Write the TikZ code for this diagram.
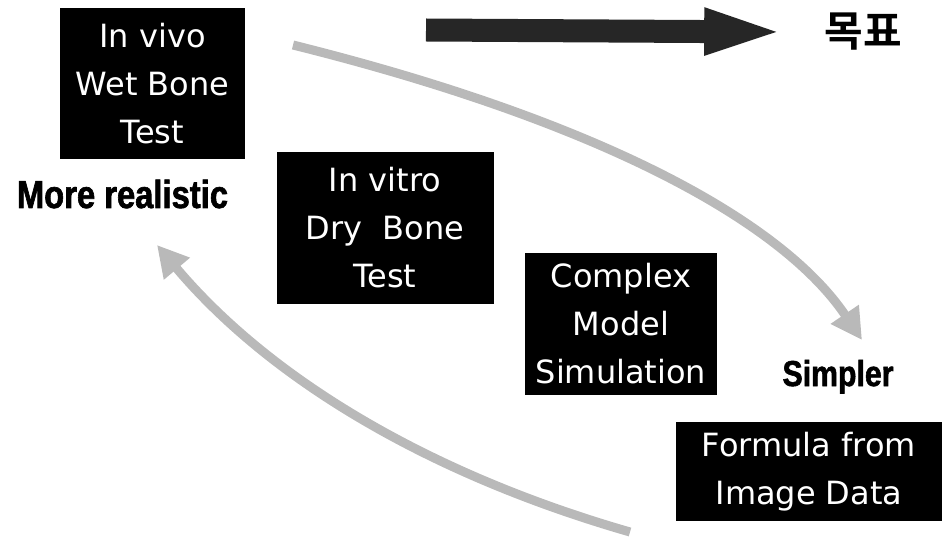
\documentclass[tikz,border=0pt]{standalone}
\usepackage{fontspec}
\usetikzlibrary{arrows.meta}
\newfontfamily\boxfont{DejaVu Sans}
\newfontfamily\headfont[FakeStretch=0.84, FakeBold=1.6]{Liberation Sans}
\newfontfamily\krfont{Noto Sans CJK KR Bold}

\begin{document}
\begin{tikzpicture}[x=1pt, y=-1pt,
  stage/.style={fill=black, text=white, align=center, inner sep=0pt,
    font=\boxfont\fontsize{32}{48}\selectfont},
  tag/.style={anchor=base, inner sep=0pt, font=\headfont\bfseries},
  trend/.style={line width=9pt, draw=gray!55, -{Triangle[length=31pt, width=32pt]}}]
  \useasboundingbox (0,0) rectangle (942,545);

  \node[stage, minimum width=185pt, minimum height=151pt] (invivo) at (152.5,83.5) {In vivo\\Wet Bone\\Test};
  \node[stage, minimum width=217pt, minimum height=152pt] (invitro) at (385,228) {In vitro\\Dry~~Bone\\Test};
  \node[stage, minimum width=192pt, minimum height=142pt] (model) at (621,324) {Complex\\Model\\Simulation};
  \node[stage, minimum width=266pt, minimum height=99pt] (formula) at (809,471.5) {Formula from\\Image Data};

  \node[tag, font=\headfont\bfseries\fontsize{39}{39}\selectfont] (real) at (122.5,208) {More realistic};
  \node[tag, font=\headfont\bfseries\fontsize{36}{36}\selectfont] (simple) at (838,386) {Simpler};
  \node[inner sep=0pt, font=\krfont\fontsize{42}{42}\selectfont] (goal) at (863,32) {목표};

  \coordinate (goalfrom) at (426,30);
  \draw[line width=23pt, black!85, -{Triangle[length=86pt, width=40pt]}] (goalfrom) -- ([xshift=-34pt]goal.west);

  \coordinate (easyfrom) at (293,45);
  \coordinate (easyto) at (862,340);
  \draw[trend] (easyfrom) .. controls (590,119) and (779,217) .. (easyto);

  \coordinate (realfrom) at (630,532);
  \coordinate (realto) at (157,245);
  \draw[trend] (realfrom) .. controls (425,473) and (268,377) .. (realto);
\end{tikzpicture}
\end{document}
